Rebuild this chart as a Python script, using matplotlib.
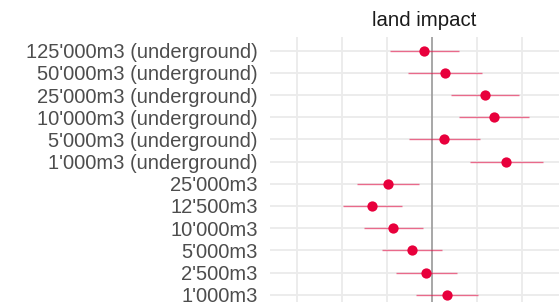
import matplotlib
matplotlib.use("Agg")
import matplotlib.pyplot as plt

categories = ["125'000m3 (underground)", "50'000m3 (underground)", "25'000m3 (underground)",
              "10'000m3 (underground)", "5'000m3 (underground)", "1'000m3 (underground)",
              "25'000m3", "12'500m3", "10'000m3", "5'000m3", "2'500m3", "1'000m3"]
estimate = [-0.019, 0.028, 0.117, 0.137, 0.027, 0.164, -0.099, -0.135, -0.087, -0.044, -0.013, 0.033]
lower = [-0.095, -0.053, 0.042, 0.059, -0.052, 0.084, -0.167, -0.198, -0.152, -0.111, -0.081, -0.036]
upper = [0.059, 0.110, 0.193, 0.214, 0.106, 0.245, -0.030, -0.068, -0.021, 0.022, 0.056, 0.102]
panel_title = "land impact"

plt.rcParams['font.family'] = ['Liberation Sans', 'DejaVu Sans']
W, H = 559, 302
fig = plt.figure(figsize=(W/100, H/100), dpi=100)
left = 270 / W
top = 1 - 37.4 / H
ax = fig.add_axes([left, 0.0, 1 - left, top])

ypos = list(range(len(categories)))
ax.set_xlim((270 - 432.3) / 450, (559 - 432.3) / 450)
ax.set_ylim((302 - 50.7) / 22.18, -0.6)

for g in [-0.3, -0.2, -0.1, 0.1, 0.2, 0.3]:
    ax.axvline(g, color='#EBEBEB', lw=1.3, zorder=0)
for y in ypos:
    ax.axhline(y, color='#EBEBEB', lw=1.3, zorder=0)
ax.axvline(0, color='#A0A0A0', lw=1.3, zorder=1)

ax.hlines(ypos, lower, upper, color='#E8003C', alpha=0.55, lw=1.0, zorder=2)
ax.plot(estimate, ypos, 'o', color='#E8003C', markersize=7.4, markeredgewidth=0, zorder=3)

ax.set_yticks(ypos)
ax.set_yticklabels(categories, fontsize=14.5, color='#4D4D4D')
ax.tick_params(axis='y', length=0, pad=9)
ax.set_xticks([])
for s in ax.spines.values():
    s.set_visible(False)

fig.text((424) / W, 1 - 20 / H, panel_title, ha='center', va='center', fontsize=14.7, color='#1A1A1A')

fig.savefig('out.png', dpi=100)
